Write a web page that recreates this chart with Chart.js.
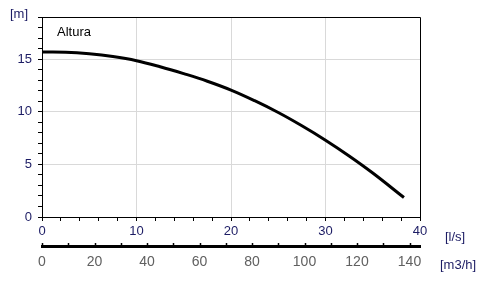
<!DOCTYPE html>
<html>
<head>
<meta charset="utf-8">
<script src="https://cdn.jsdelivr.net/npm/chart.js@4"></script>
<style>
  body { margin: 0; background: #fff; }
  #wrap { width: 486px; height: 292px; }
</style>
</head>
<body>
<div id="wrap"><canvas id="curva"></canvas></div>
<script>
// caudal [l/s] et hauteur [m]
const caudal = [0, 2.5, 5, 7.5, 10, 12.5, 15, 17.5, 20, 22.5, 25, 27.5, 30, 32.5, 35, 38.3];
const altura = [15.67, 15.65, 15.5, 15.24, 14.85, 14.28, 13.62, 12.9, 12.06, 11.05, 9.93, 8.67, 7.3, 5.8, 4.18, 1.85];

const etiquetaY = '[m]';
const etiquetaX = '[l/s]';
const etiquetaX2 = '[m3/h]';
const nomeSerie = 'Altura';

const txtColor = '#1c1c64';
const gridColor = '#d9d9d9';
const fuente = 'Liberation Sans, Arial, sans-serif';

// textes et cadre du graphique
const extras = {
    id: 'extras',
    afterDraw(chart) {
        const c = chart.ctx;
        const a = chart.chartArea;
        const x2 = chart.scales.x2;
        c.save();
        // cadre haut et droite
        c.strokeStyle = '#000';
        c.lineWidth = 1;
        c.beginPath();
        c.moveTo(Math.floor(a.left) + 0.5, Math.floor(a.top) + 0.5);
        c.lineTo(Math.floor(a.right) + 0.5, Math.floor(a.top) + 0.5);
        c.lineTo(Math.floor(a.right) + 0.5, Math.floor(a.bottom) + 0.5);
        c.stroke();
        // petits traits de l'axe m3/h
        c.lineWidth = 1.5;
        for (let v = 0; v <= 140; v += 10) {
            const px = Math.round(x2.getPixelForValue(v)) + 0.5;
            c.beginPath();
            c.moveTo(px, x2.top - 3);
            c.lineTo(px, x2.top + 1);
            c.stroke();
        }
        // textes
        c.font = '13px ' + fuente;
        c.fillStyle = txtColor;
        c.textBaseline = 'middle';
        c.textAlign = 'left';
        c.fillText(etiquetaY, 10, 14);
        c.fillStyle = '#000';
        c.fillText(nomeSerie, a.left + 15, a.top + 15);
        c.fillStyle = txtColor;
        c.fillText(etiquetaX, a.right + 25, 237);
        c.fillText(etiquetaX2, a.right + 20, 265);
        c.restore();
    }
};

const chart = new Chart(document.getElementById('curva'), {
    type: 'line',
    data: {
        datasets: [{
            label: nomeSerie,
            data: caudal.map((q, i) => ({ x: q, y: altura[i] })),
            borderColor: '#000',
            borderWidth: 3,
            pointRadius: 0,
            fill: false,
            tension: 0.4
        }]
    },
    options: {
        responsive: true,
        maintainAspectRatio: false,
        animation: false,
        layout: { padding: { left: 0, right: 66, top: 17, bottom: 0 } },
        plugins: { legend: { display: false }, tooltip: { enabled: false } },
        scales: {
            x: {
                type: 'linear',
                position: 'bottom',
                min: 0,
                max: 40,
                afterFit: s => { s.height = 29; },
                border: { color: '#000', width: 1 },
                grid: {
                    color: c => (c.tick && c.tick.value % 10 === 0 && c.tick.value > 0 && c.tick.value < 40) ? gridColor : 'rgba(0,0,0,0)',
                    tickColor: '#000',
                    tickLength: 4
                },
                ticks: {
                    stepSize: 2,
                    autoSkip: false,
                    maxRotation: 0,
                    padding: 3,
                    color: txtColor,
                    font: { family: fuente, size: 13 },
                    callback: v => v % 10 === 0 ? v : ''
                }
            },
            x2: {
                type: 'linear',
                position: 'bottom',
                min: 0,
                max: 144,
                afterFit: s => { s.height = 46; },
                border: { color: '#000', width: 3 },
                grid: { drawOnChartArea: false, drawTicks: false },
                ticks: {
                    stepSize: 10,
                    includeBounds: false,
                    autoSkip: false,
                    maxRotation: 0,
                    padding: 8,
                    color: '#606060',
                    font: { family: fuente, size: 14 },
                    callback: v => v % 20 === 0 ? v : ''
                }
            },
            y: {
                type: 'linear',
                min: 0,
                max: 19,
                afterFit: s => { s.width = 42; },
                border: { color: '#000', width: 1 },
                grid: {
                    color: c => (c.tick && c.tick.value % 5 === 0 && c.tick.value > 0) ? gridColor : 'rgba(0,0,0,0)',
                    tickColor: '#000',
                    tickLength: 4
                },
                ticks: {
                    stepSize: 1,
                    autoSkip: false,
                    padding: 6,
                    color: txtColor,
                    font: { family: fuente, size: 13 },
                    callback: v => v % 5 === 0 ? v : ''
                }
            }
        }
    },
    plugins: [extras]
});
</script>
</body>
</html>
